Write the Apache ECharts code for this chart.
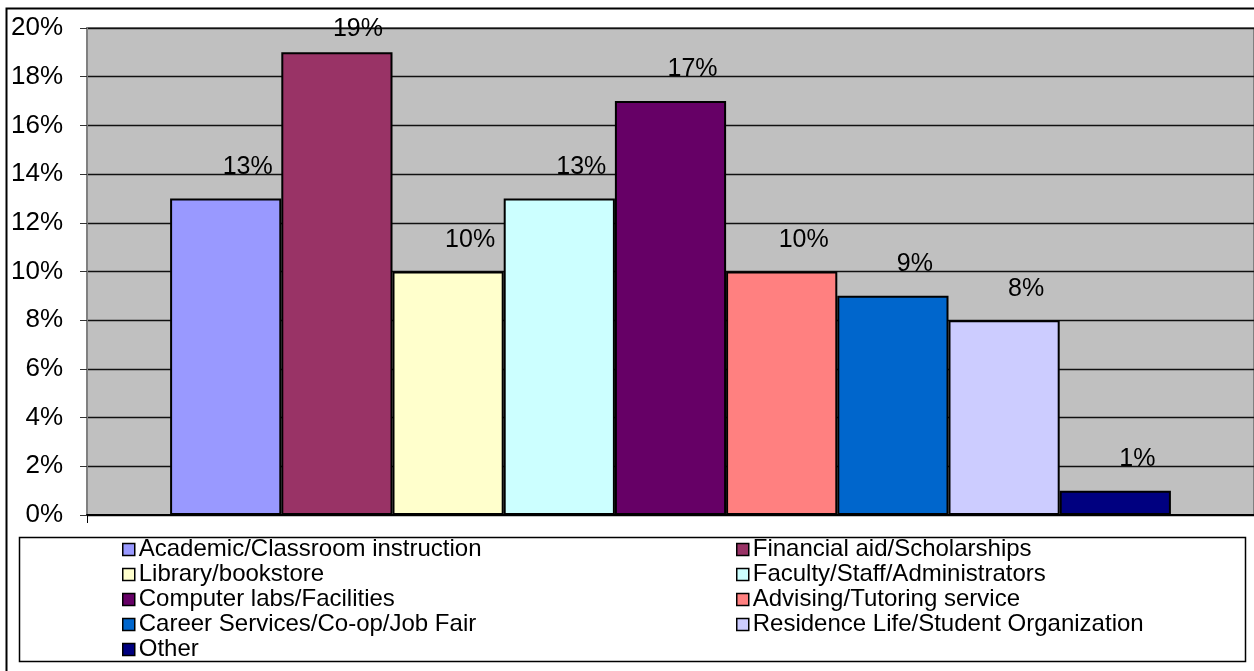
<!DOCTYPE html>
<html>
<head>
<meta charset="utf-8">
<script src="https://cdn.jsdelivr.net/npm/echarts@6/dist/echarts.min.js"></script>
<style>html,body{margin:0;padding:0;background:#fff;}#c{width:1254px;height:671px;}</style>
</head>
<body>
<div id="c"></div>
<script>
const seriesNames = [
  'Academic/Classroom instruction',
  'Financial aid/Scholarships',
  'Library/bookstore',
  'Faculty/Staff/Administrators',
  'Computer labs/Facilities',
  'Advising/Tutoring service',
  'Career Services/Co-op/Job Fair',
  'Residence Life/Student Organization',
  'Other'
];
const seriesValues = [13, 19, 10, 13, 17, 10, 9, 8, 1];
const seriesColors = ['#9999FF', '#993366', '#FFFFCC', '#CCFFFF', '#660066', '#FF8080', '#0066CC', '#CCCCFF', '#000080'];
const yTicks = { min: 0, max: 20, interval: 2 };
const leftColumn = [0, 2, 4, 6, 8];
const rightColumn = [1, 3, 5, 7];

const FONT = '"Liberation Sans", Arial, sans-serif';
const chart = echarts.init(document.getElementById('c'), null, { renderer: 'canvas' });

const series = seriesNames.map((name, i) => ({
  name: name,
  type: 'bar',
  data: [seriesValues[i]],
  barWidth: 111.2,
  barGap: '0%',
  itemStyle: { color: seriesColors[i], borderColor: '#000', borderWidth: 2 },
  label: {
    show: true,
    position: 'top',
    formatter: '{c}%',
    color: '#000',
    fontFamily: FONT,
    fontSize: 25,
    offset: i === 1 ? [21, -6] : [22, -14]
  }
}));

const legendCommon = {
  orient: 'vertical',
  top: 537,
  itemWidth: 12,
  itemHeight: 12,
  itemGap: 0,
  icon: 'rect',
  itemStyle: { borderColor: '#000', borderWidth: 1.5 },
  textStyle: { fontFamily: FONT, fontSize: 24, color: '#000', lineHeight: 25, padding: [0, 0, 0, -1] },
  padding: 0
};

chart.setOption({
  animation: false,
  backgroundColor: '#fff',
  grid: {
    left: 87, right: 0, top: 28, bottom: 156,
    show: true, backgroundColor: '#C0C0C0', borderColor: '#808080', borderWidth: 2
  },
  xAxis: {
    type: 'category',
    data: [''],
    axisLine: { show: true, lineStyle: { color: '#000', width: 2 } },
    axisTick: { show: true, length: 8, lineStyle: { color: '#000' } },
    axisLabel: { show: false }
  },
  yAxis: {
    type: 'value',
    min: yTicks.min, max: yTicks.max, interval: yTicks.interval,
    axisLine: { show: true, lineStyle: { color: '#808080', width: 2 } },
    axisTick: { show: true, length: 7, lineStyle: { color: '#333' } },
    axisLabel: { formatter: '{value}%', fontFamily: FONT, fontSize: 26, color: '#000', margin: 24 },
    splitLine: { show: true, lineStyle: { color: '#111', width: 1.4 } }
  },
  legend: [
    Object.assign({}, legendCommon, { left: 122, data: leftColumn.map(i => seriesNames[i]) }),
    Object.assign({}, legendCommon, { left: 736, data: rightColumn.map(i => seriesNames[i]) })
  ],
  graphic: [
    { type: 'rect', z: -1, shape: { x: 19.5, y: 537.5, width: 1226, height: 124 },
      style: { fill: '#fff', stroke: '#000', lineWidth: 1.5 } },
    { type: 'rect', z: 100, silent: true, shape: { x: 6.5, y: 8.5, width: 1400, height: 800 },
      style: { fill: 'none', stroke: '#000', lineWidth: 2 } }
  ],
  series: series
});
</script>
</body>
</html>
